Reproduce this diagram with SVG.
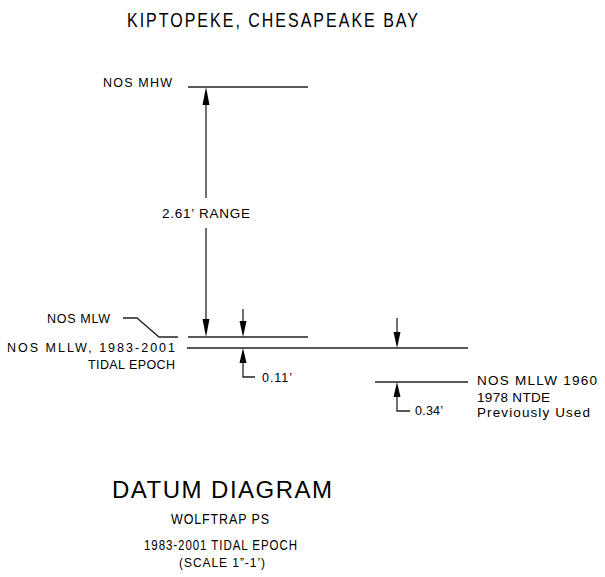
<svg xmlns="http://www.w3.org/2000/svg" width="605" height="577" viewBox="0 0 605 577">
  <style>
    .bg { fill: #ffffff; }
    .ln { stroke: #222; stroke-width: 1.3; fill: none; }
    .ah { fill: #000; stroke: none; }
    text { font-family: "Liberation Sans", Arial, sans-serif; fill: #000; }
    .lbl { font-size: 12.5px; }
    .lbl2 { font-size: 13.5px; }
  </style>
  <defs>
    <path id="arrowDown" class="ah" d="M0,0 L-3.5,-18 L3.5,-18 Z"/>
    <path id="arrowUp" class="ah" d="M0,0 L-3.5,18 L3.5,18 Z"/>
    <path id="arrowDownS" class="ah" d="M0,0 L-3.5,-16 L3.5,-16 Z"/>
    <path id="arrowUpS" class="ah" d="M0,0 L-3.5,15 L3.5,15 Z"/>
  </defs>
  <rect class="bg" x="0" y="0" width="605" height="577"/>

  <g id="title">
    <text transform="translate(127,27) scale(1,1.22)" x="0" y="0" style="font-size:16px" textLength="291" lengthAdjust="spacing">KIPTOPEKE, CHESAPEAKE BAY</text>
  </g>

  <g id="nos-mhw">
    <line class="ln" x1="188" y1="87" x2="308" y2="87"/>
    <text class="lbl" x="103" y="87" textLength="69" lengthAdjust="spacing">NOS MHW</text>
  </g>

  <g id="nos-mlw">
    <line class="ln" x1="188" y1="337" x2="308" y2="337"/>
    <polyline class="ln" points="123,318 137,318 159,337 178,337"/>
    <text class="lbl" x="47" y="323" textLength="63" lengthAdjust="spacing">NOS MLW</text>
  </g>

  <g id="nos-mllw-1983">
    <line class="ln" x1="187" y1="348" x2="468" y2="348"/>
    <text class="lbl" x="7" y="352" textLength="168" lengthAdjust="spacing">NOS MLLW, 1983-2001</text>
    <text class="lbl" x="88" y="369" textLength="87" lengthAdjust="spacing">TIDAL EPOCH</text>
  </g>

  <g id="nos-mllw-1960">
    <line class="ln" x1="375" y1="382" x2="468" y2="382"/>
    <text class="lbl2" x="477" y="385" textLength="120" lengthAdjust="spacing">NOS MLLW 1960</text>
    <text class="lbl2" x="477" y="402" textLength="73" lengthAdjust="spacing">1978 NTDE</text>
    <text class="lbl2" x="477" y="417" textLength="113" lengthAdjust="spacing">Previously Used</text>
  </g>

  <g id="connectors">
    <!-- range dimension -->
    <line class="ln" x1="206" y1="100" x2="206" y2="198"/>
    <line class="ln" x1="206" y1="228" x2="206" y2="325"/>
    <use href="#arrowUp" x="206" y="87"/>
    <use href="#arrowDown" x="206" y="337"/>
    <text class="lbl2" x="162" y="218" textLength="88" lengthAdjust="spacing">2.61’ RANGE</text>

    <!-- 0.11 dimension -->
    <line class="ln" x1="243" y1="309" x2="243" y2="325"/>
    <use href="#arrowDownS" x="243" y="337"/>
    <use href="#arrowUpS" x="243" y="348"/>
    <polyline class="ln" points="243,360 243,377 255,377"/>
    <text class="lbl" x="262" y="382" textLength="30" lengthAdjust="spacing">0.11’</text>

    <!-- 0.34 dimension -->
    <line class="ln" x1="397" y1="318" x2="397" y2="335"/>
    <use href="#arrowDownS" x="397" y="348"/>
    <use href="#arrowUpS" x="397" y="382"/>
    <polyline class="ln" points="397,394 397,411 410,411"/>
    <text class="lbl" x="415" y="415" textLength="28" lengthAdjust="spacing">0.34’</text>
  </g>

  <g id="caption">
    <text x="112" y="498" style="font-size:24px" textLength="220" lengthAdjust="spacing">DATUM DIAGRAM</text>
    <text transform="translate(171,524) scale(1,1.23)" x="0" y="0" style="font-size:12.5px" textLength="98" lengthAdjust="spacing">WOLFTRAP PS</text>
    <text transform="translate(144,550) scale(1,1.21)" x="0" y="0" style="font-size:11.5px" textLength="153" lengthAdjust="spacing">1983-2001 TIDAL EPOCH</text>
    <text transform="translate(179,567) scale(1,1.1)" x="0" y="0" style="font-size:12px" textLength="86" lengthAdjust="spacing">(SCALE 1”-1’)</text>
  </g>
</svg>
